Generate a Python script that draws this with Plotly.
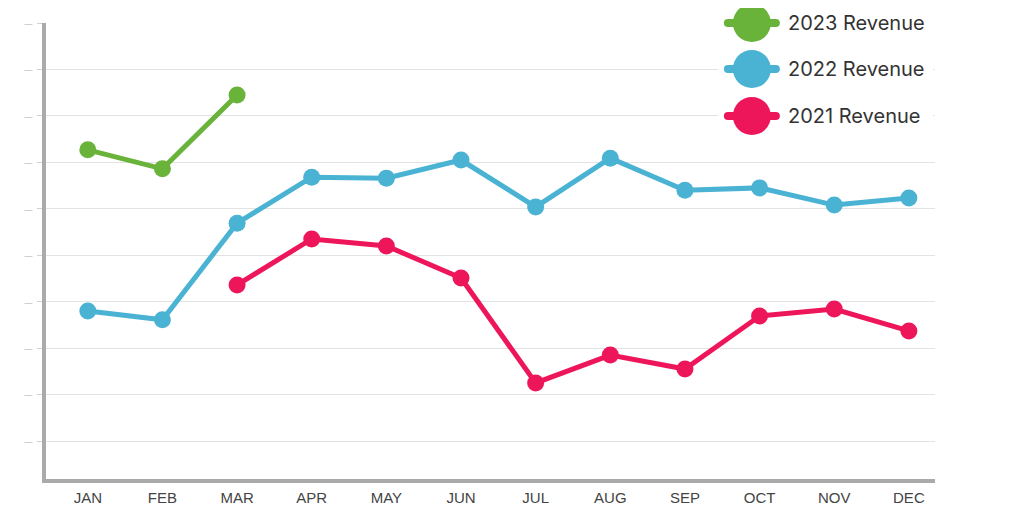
import plotly.graph_objects as go

months = ["JAN", "FEB", "MAR", "APR", "MAY", "JUN", "JUL", "AUG", "SEP", "OCT", "NOV", "DEC"]
rev_2023 = [72.7, 68.6, 84.5, None, None, None, None, None, None, None, None, None]
rev_2022 = [38.0, 36.1, 56.9, 66.8, 66.6, 70.5, 60.4, 70.9, 64.0, 64.5, 60.8, 62.3]
rev_2021 = [None, None, 43.6, 53.5, 52.0, 45.1, 22.5, 28.5, 25.5, 36.9, 38.4, 33.7]
y_ticks = [10, 20, 30, 40, 50, 60, 70, 80, 90, 100]

series = [
    ("2023 Revenue", rev_2023, "#6ab33b"),
    ("2022 Revenue", rev_2022, "#4ab3d4"),
    ("2021 Revenue", rev_2021, "#ee165a"),
]

fig = go.Figure()
for name, vals, color in reversed(series):
    fig.add_trace(go.Scatter(
        x=months, y=vals, name=name, mode="lines+markers",
        line=dict(color=color, width=5),
        marker=dict(color=color, size=17),
        connectgaps=False, showlegend=False,
    ))

# custom legend (big round symbols)
shapes = []
annotations = []
leg_x = 0.794
leg_ys = [1.0, 0.899, 0.796]
shapes.append(dict(type="rect", xref="paper", yref="paper", x0=0.756, x1=0.998,
                   y0=0.72, y1=1.06, fillcolor="white", line=dict(width=0), layer="above"))
for (name, vals, color), ly in zip(series, leg_ys):
    shapes.append(dict(type="line", xref="paper", yref="paper",
                       xsizemode="pixel", ysizemode="pixel", xanchor=leg_x, yanchor=ly,
                       x0=-24, x1=24, y0=0, y1=0,
                       line=dict(color=color, width=8), layer="above"))
    for ex in (-24, 24):
        shapes.append(dict(type="circle", xref="paper", yref="paper",
                           xsizemode="pixel", ysizemode="pixel", xanchor=leg_x, yanchor=ly,
                           x0=ex - 4, x1=ex + 4, y0=-4, y1=4,
                           fillcolor=color, line=dict(width=0), layer="above"))
    shapes.append(dict(type="circle", xref="paper", yref="paper",
                       xsizemode="pixel", ysizemode="pixel", xanchor=leg_x, yanchor=ly,
                       x0=-19, x1=19, y0=-19, y1=19,
                       fillcolor=color, line=dict(width=0), layer="above"))
    annotations.append(dict(text=name, xref="paper", yref="paper", x=0.832, y=ly,
                            xanchor="left", yanchor="middle", showarrow=False,
                            font=dict(family="Inter", size=20, color="#333333")))

fig.update_layout(
    width=1024, height=525,
    margin=dict(l=38, r=97, t=15, b=54, autoexpand=False),
    plot_bgcolor="white", paper_bgcolor="white",
    shapes=shapes, annotations=annotations,
    xaxis=dict(
        type="category", range=[-0.56, 11.35], showgrid=False,
        showline=True, linecolor="#aaaaaa", linewidth=4,
        tickfont=dict(family="Liberation Sans", size=15, color="#444444"),
        ticks="", zeroline=False, ticklabelstandoff=2, automargin=False,
    ),
    yaxis=dict(
        range=[1.82, 100], tickvals=y_ticks, ticktext=["–"] * len(y_ticks),
        tickfont=dict(family="Liberation Sans", size=14, color="#d0d0d0"),
        showgrid=True, gridcolor="#e3e3e3", gridwidth=1,
        showline=True, linecolor="#aaaaaa", linewidth=4,
        ticks="outside", ticklen=5, tickcolor="#d0d0d0", tickwidth=1,
        ticklabelstandoff=2, automargin=False,
        zeroline=False,
    ),
)

fig.write_html("out.html")
